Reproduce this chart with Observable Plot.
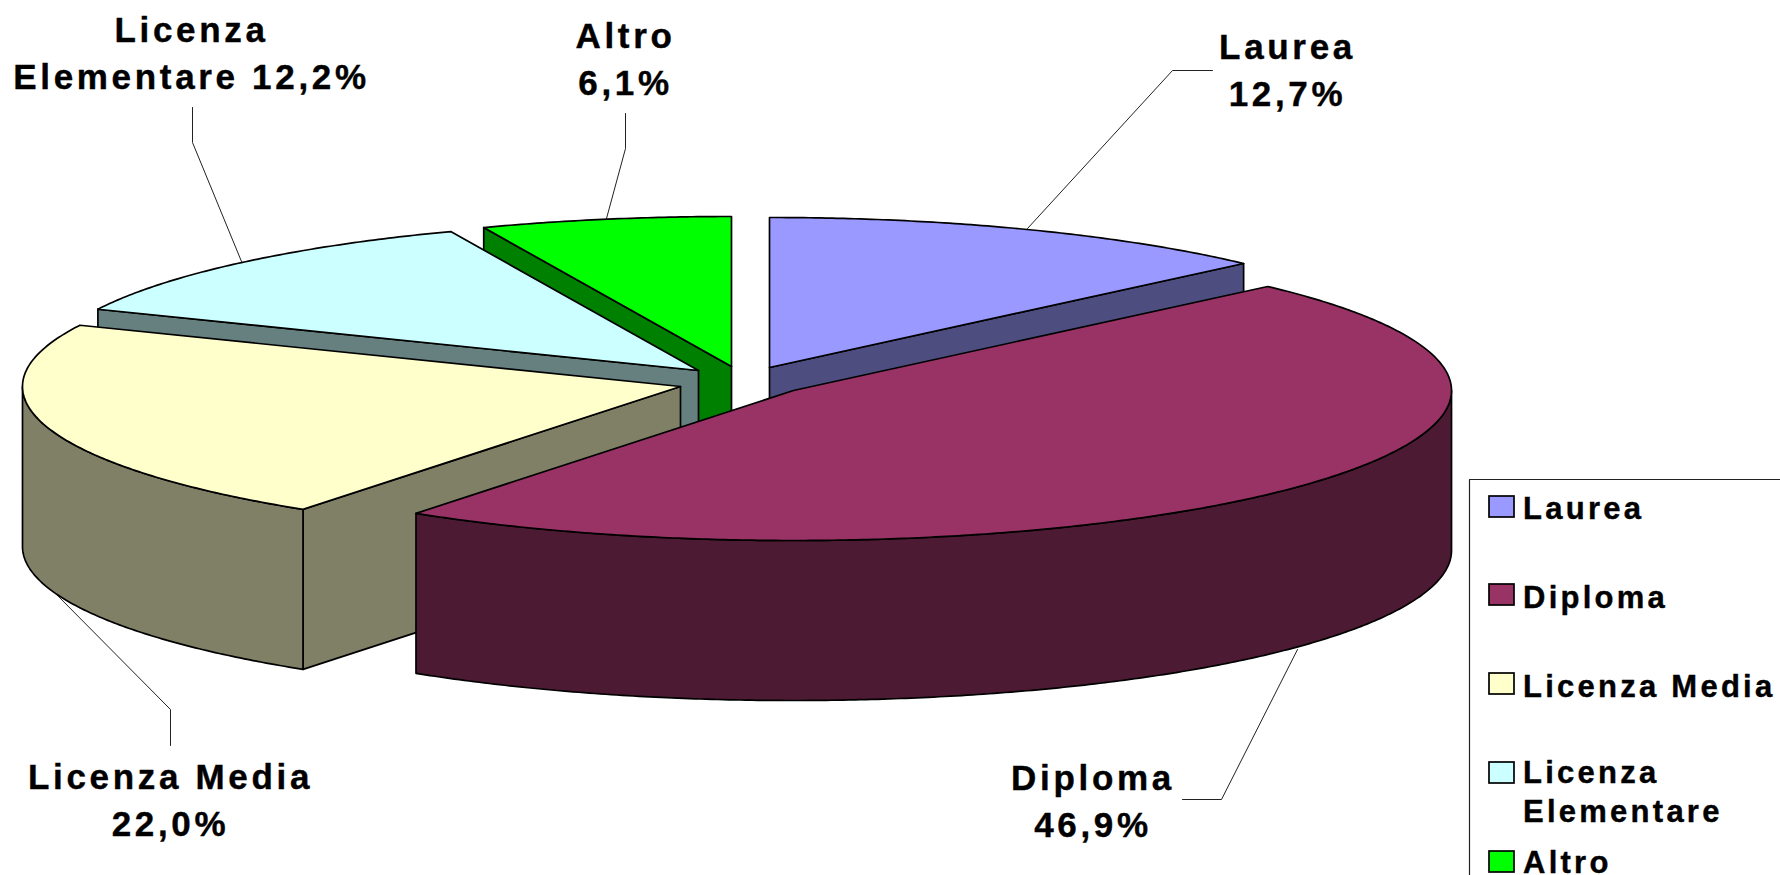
<!DOCTYPE html>
<html><head><meta charset="utf-8">
<script src="https://cdn.jsdelivr.net/npm/d3@7"></script>
<script src="https://cdn.jsdelivr.net/npm/@observablehq/plot@0.6"></script>
<style>
html,body{margin:0;padding:0;background:#fff;overflow:hidden}
svg{display:block}
svg text{letter-spacing:.105em}
</style></head><body><div id="chart"></div>
<script>
// Data
const categories = ["Laurea","Diploma","Licenza Media","Licenza Elementare","Altro"];
const values = [12.7,46.9,22.0,12.2,6.1];
const labelNames = ["Laurea","Diploma","Licenza Media","Licenza\nElementare","Altro"];
const legendNames = ["Laurea","Diploma","Licenza Media","Licenza\nElementare","Altro"];
const topColors = ["#9999FF","#993366","#FFFFCC","#CCFFFF","#00FF00"];
const sideColors = ["#4D4D80","#4D1A33","#808066","#668080","#008000"];

// Layout
const W = 1780, H = 875;
const rx = 658, ry = 150, depth = 160;
const skew = [0.38,0.45,0.35,0.2]; // slight perspective shift of the inner slice boundaries
const centers = [[769,367],[793,390],[680,386],[698,370],[731,366]];
const cum = d3.cumsum(values);
const bound = i => i<=0 ? 0 : i>=values.length ? 360 : cum[i-1]/100*360 + skew[i-1];
const ang = i => [bound(i), bound(i+1)];
const pt = (i,deg,dz=0) => {
  const r = deg*Math.PI/180;
  return {x: centers[i][0]+rx*Math.sin(r), y: centers[i][1]-ry*Math.cos(r)+dz};
};
const arc = (i,a,b,dz=0) => {
  const n = Math.max(2,Math.ceil(Math.abs(b-a)*2)), out=[];
  for(let k=0;k<=n;k++) out.push(pt(i,a+(b-a)*k/n,dz));
  return out;
};
const rows = [];
let pid = 0;
function poly(points,fill){ const id=pid++; for(const p of [...points,points[0],points[1]]) rows.push({...p,id,fill}); }
const apex = (i,dz=0)=>({x:centers[i][0],y:centers[i][1]+dz});
function topFace(i){ const [a,b]=ang(i); poly([apex(i),...arc(i,a,b)],topColors[i]); }
function cutFace(i,deg){ poly([apex(i),pt(i,deg),pt(i,deg,depth),apex(i,depth)],sideColors[i]); }
function wallFace(i,a,b){ poly([...arc(i,a,b),...arc(i,b,a,depth)],sideColors[i]); }

cutFace(0,ang(0)[1]); topFace(0);
cutFace(4,ang(4)[0]); topFace(4);
cutFace(3,ang(3)[0]); topFace(3);
cutFace(2,ang(2)[0]); wallFace(2,ang(2)[0],270); topFace(2);
wallFace(1,90,ang(1)[1]); topFace(1);

const leaders = [
  [[1212,70],[1172,70],[1027,228]],
  [[1182,799],[1221,799],[1297,649]],
  [[170,745],[170,709],[55,593]],
  [[192,107],[192,142],[241,261]],
  [[625,113],[625,148],[606,218]]
].flatMap((l,i)=>l.map(([x,y])=>({x,y,i})));

const pct = v => v.toFixed(1).replace(".",",")+"%";
const labelPos = [[1287,105],[1092.5,836],[170,835],[191,88],[625,94]];
const labels = categories.map((c,i)=>({
  x:labelPos[i][0], y:labelPos[i][1],
  text: labelNames[i] + (i===3?" ":"\n") + pct(values[i])
}));

const legendBox = [{x:1780,y:479},{x:1469,y:479},{x:1469,y:875}];
const swatchTop = [496,584,673,762,851];
const legendBaseline = [518,607,696,821,872];
const swatches = categories.map((c,i)=>({x1:1489,x2:1514,y1:swatchTop[i],y2:swatchTop[i]+21,fill:topColors[i]}));
const legendText = categories.map((c,i)=>({x:1522.5,y:legendBaseline[i],text:legendNames[i]}));

const chart = Plot.plot({
  width:W, height:H, margin:0,
  x:{domain:[0,W],range:[0,W],axis:null},
  y:{domain:[0,H],range:[0,H],axis:null},
  style:{fontFamily:"'Liberation Sans',Arial,sans-serif",fontWeight:"bold",background:"#fff"},
  marks:[
    Plot.line(leaders,{x:"x",y:"y",z:"i",stroke:"#222",strokeWidth:1,curve:"linear"}),
    Plot.line(rows,{x:"x",y:"y",z:"id",fill:"fill",stroke:"#000",strokeWidth:1.7,curve:"linear",strokeLinejoin:"round"}),
    Plot.text(labels,{x:"x",y:"y",text:"text",fontSize:35,lineHeight:1.33,textAnchor:"middle",lineAnchor:"bottom",fill:"#000",stroke:"#000",strokeWidth:0.4}),
    Plot.line(legendBox,{x:"x",y:"y",stroke:"#222",strokeWidth:1.2}),
    Plot.rect(swatches,{x1:"x1",x2:"x2",y1:"y1",y2:"y2",fill:"fill",stroke:"#000",strokeWidth:1.7}),
    Plot.text(legendText,{x:"x",y:"y",text:"text",fontSize:31,lineHeight:1.23,textAnchor:"start",lineAnchor:"bottom",fill:"#000",stroke:"#000",strokeWidth:0.4})
  ]
});
document.getElementById("chart").append(chart);
</script></body></html>
